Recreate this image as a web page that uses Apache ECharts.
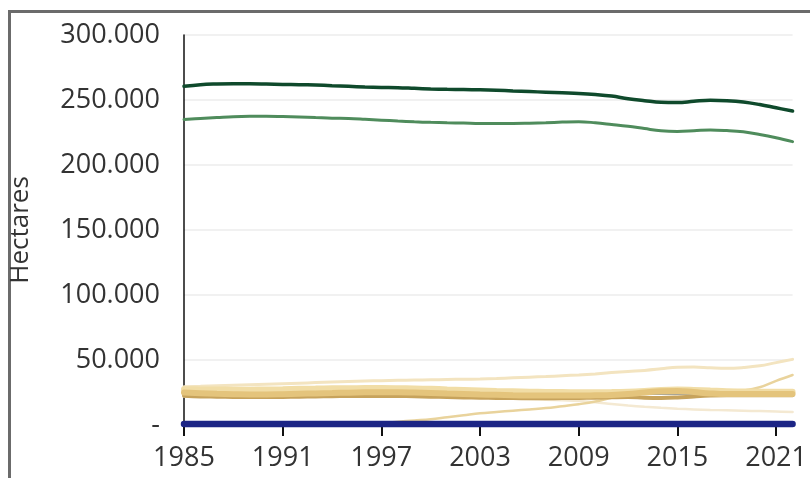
<!DOCTYPE html>
<html>
<head>
<meta charset="utf-8">
<script src="https://cdn.jsdelivr.net/npm/echarts@6/dist/echarts.min.js"></script>
<style>
html,body{margin:0;padding:0;background:#fff;overflow:hidden;}
#frame{position:absolute;left:8px;top:10px;width:900px;height:600px;border:3px solid #6b6b6b;box-sizing:border-box;}
#chart{position:absolute;left:0;top:0;width:810px;height:478px;}
</style>
</head>
<body>
<div id="frame"></div>
<div id="chart"></div>
<script>
const years = [];
for (let y = 1985; y <= 2022; y++) years.push(String(y));

// values in thousands of hectares
const forestDense = [260.5,261.8,262.3,262.5,262.5,262.3,262,261.8,261.5,261,260.5,260,259.7,259.5,259,258.5,258.2,258,257.8,257.5,257,256.5,256,255.5,255,254.2,253,251,249.5,248.2,248,249,249.8,249.5,248.5,246.5,244,241.5];
const forestOpen = [235,235.8,236.5,237.2,237.5,237.5,237.3,237,236.5,236,235.8,235.2,234.5,233.8,233.2,232.8,232.5,232.3,232,232,232,232.2,232.5,233,233.3,232.5,231.2,229.8,228,226.3,225.8,226.3,227,226.5,225.5,223.5,221,218];
const palest = [29.5,29.8,30.2,30.6,31,31.4,31.8,32.2,32.6,33,33.4,33.8,34.1,34.4,34.6,34.8,35,35.2,35.4,35.8,36.3,36.8,37.3,37.9,38.5,39.3,40.3,41.2,42,43.2,44.5,44.6,44,43.6,44.2,45.5,48,50.5];
const lightBand = [27.5,27.4,27.3,27.2,27.2,27.3,27.5,27.8,28,28.2,28.3,28.4,28.4,28.3,28.1,27.8,27.4,27,26.6,26.2,25.9,25.6,25.4,25.3,25.2,25.2,25.3,25.6,26.2,27,27.3,27,26.5,26,25.8,25.6,25.5,25.5];
const goldBand = [25,24.5,24,23.7,23.5,23.5,23.7,24,24.3,24.6,24.9,25.1,25.2,25.2,25,24.7,24.3,23.9,23.5,23.2,22.9,22.7,22.6,22.6,22.6,22.8,23.1,23.8,25,26,26.2,25.3,24.3,23.8,23.8,23.8,23.8,23.8];
const tan = [22.5,22,21.8,21.6,21.5,21.5,21.6,21.8,22,22.2,22.3,22.4,22.4,22.3,22.1,21.8,21.5,21.2,21,20.8,20.7,20.6,20.6,20.7,20.8,21,21.3,21.5,21,20.8,21.2,22,22.6,22.8,22.8,22.8,22.8,22.8];
const darkLine = [25,25,25,25,25,25,25,25,25,25,25,25,25,25,25,25,25.3,25.6,25.8,25.9,25.8,25.7,25.6,25.5,25.4,25.2,24.8,24.3,24,24,24,24,24,24,24,24,24,24];
const rising = [0,0,0,0,0,0,0,0,0,0,0,0.5,1.5,2.5,3.5,4.5,6,7.5,9,10,11,12,13,14.5,16,18,21,23.5,24.5,25,25,25,25.2,25.5,26.5,29,34,38.5];
const faintLow = [22,22,22,22,22,22,22,22,22,22,22,22,22,22,22,22,22,21.8,21.5,21,20.5,20,19.5,19,18.5,17.5,16.2,15,14,13.2,12.5,12,11.6,11.3,11,10.7,10.4,10];
const waterLine = [0.8,0.8,0.8,0.8,0.8,0.8,0.8,0.8,0.8,0.8,0.8,0.8,0.8,0.8,0.8,0.8,0.8,0.8,0.8,0.8,0.8,0.8,0.8,0.8,0.8,0.8,0.8,0.8,0.8,0.8,0.8,0.8,0.8,0.8,0.8,0.8,0.8,0.8];

function k(arr){ return arr.map(v => v*1000); }

const chart = echarts.init(document.getElementById('chart'), null, {renderer:'canvas'});

function line(name, data, color, width, z, smooth){
  return {
    name, type:'line', data:k(data), symbol:'none', smooth: smooth === undefined ? 0.4 : smooth,
    lineStyle:{color, width, cap:'round'}, z, animation:false
  };
}

const FONT = 'Open Sans';

chart.setOption({
  backgroundColor:'transparent',
  animation:false,
  grid:{left:184, right:10, top:35, bottom:53},
  xAxis:{
    type:'category', data:years, boundaryGap:false,
    axisLine:{show:true, lineStyle:{color:'#111', width:1.5}},
    axisTick:{show:true, interval:5, length:11, lineStyle:{color:'#111', width:2}},
    axisLabel:{interval:5, color:'#333', fontSize:27, fontFamily:FONT, margin:20},
    splitLine:{show:false}
  },
  yAxis:{
    type:'value', min:0, max:300000, interval:50000,
    name:'Hectares', nameLocation:'middle', nameGap:150, nameRotate:90,
    nameTextStyle:{color:'#333', fontSize:26, fontFamily:FONT},
    axisLine:{show:true, lineStyle:{color:'#111', width:1.5}},
    axisTick:{show:false},
    axisLabel:{color:'#333', fontSize:27, fontFamily:FONT, margin:24,
      formatter:function(v){ return v === 0 ? '-' : (v/1000) + '.000'; }},
    splitLine:{show:true, lineStyle:{color:'#ececec', width:1.5}}
  },
  series:[
    line('Bosque denso', forestDense, '#0f4a2c', 3.5, 5),
    line('Bosque abierto', forestOpen, '#4f8c5c', 3, 5),
    line('Pale', palest, '#f3e4c0', 3, 2),
    line('Faint', faintLow, '#f4e9d2', 2.5, 2),
    line('Dark', darkLine, '#4f4a30', 1.5, 2),
    line('Rising', rising, '#e9d39c', 2.5, 3),
    line('LightBand', lightBand, '#f1dda6', 6, 3),
    line('Tan', tan, '#c7a35c', 4, 3),
    line('Gold', goldBand, '#e4c47c', 6, 4),
    line('Water', waterLine, '#1c2585', 6.5, 6, false)
  ]
});
</script>
</body>
</html>
